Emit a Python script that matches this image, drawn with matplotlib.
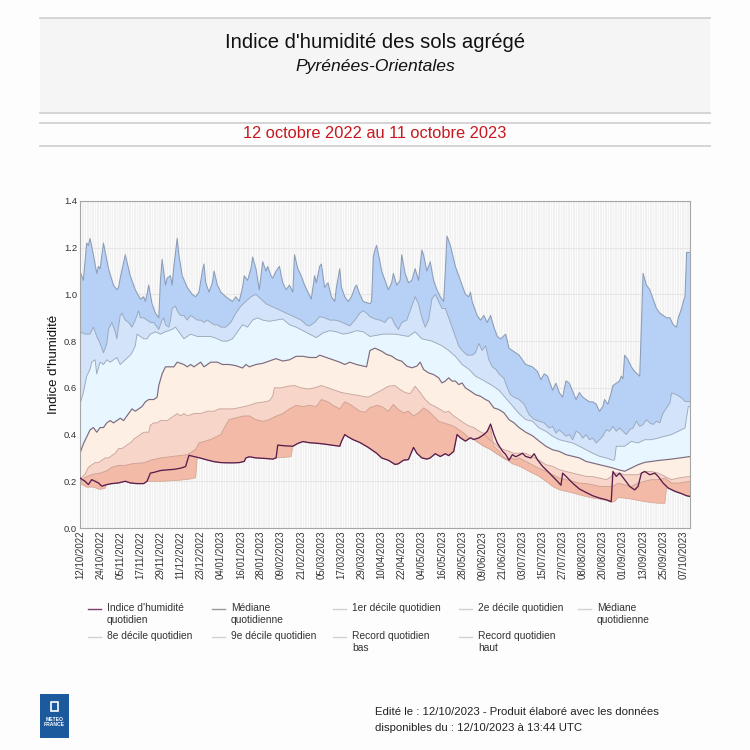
import numpy as np
import matplotlib
matplotlib.use("Agg")
import matplotlib.pyplot as plt
from matplotlib.patches import Rectangle
from matplotlib.lines import Line2D

plt.rcParams['font.family'] = ['Liberation Sans', 'DejaVu Sans']

# day offsets from 12/10/2022, soil wetness index values
rec_hi = [(0, 1.10), (2, 1.06), (4, 1.22), (5, 1.21), (6, 1.24), (8, 1.17), (10, 1.09), (11, 1.12),
          (12, 1.11), (14, 1.22), (17, 1.11), (20, 1.04), (22, 1.02), (23, 1.03), (24, 1.07), (27, 1.17),
          (30, 1.08), (33, 1.02), (36, 0.98), (38, 0.99), (39, 0.97), (40, 1.00), (41, 1.04), (43, 0.96),
          (45, 0.92), (47, 0.90), (48, 1.06), (49, 1.15), (51, 1.04), (52, 1.07), (54, 1.08), (55, 1.04),
          (56, 1.12), (58, 1.24), (59, 1.17), (61, 1.08), (64, 1.03), (67, 1.00), (69, 0.99), (71, 1.01),
          (73, 1.10), (74, 1.13), (75, 1.05), (77, 1.01), (79, 1.05), (80, 1.10), (82, 1.04), (84, 1.01),
          (87, 0.99), (91, 0.97), (93, 0.99), (95, 0.97), (97, 1.03), (98, 1.08), (100, 1.06), (102, 1.11),
          (103, 1.16), (105, 1.11), (107, 1.02), (109, 1.14), (111, 1.10), (112, 1.12), (114, 1.08),
          (115, 1.07), (117, 1.10), (119, 1.12), (121, 1.05), (123, 1.02), (125, 1.04), (127, 1.01),
          (128, 1.17), (130, 1.11), (132, 1.08), (134, 1.04), (136, 1.01), (138, 0.98), (140, 1.08),
          (141, 1.05), (143, 1.12), (144, 1.13), (146, 1.03), (148, 1.05), (150, 0.99), (152, 0.97),
          (153, 1.03), (155, 1.11), (156, 1.03), (158, 0.99), (160, 0.97), (162, 0.99), (164, 1.03),
          (165, 1.04), (167, 1.00), (169, 0.97), (173, 0.96), (174, 0.97), (175, 1.16), (176, 1.19),
          (177, 1.21), (179, 1.14), (180, 1.10), (182, 1.06), (184, 1.02), (186, 1.05), (187, 1.09),
          (189, 1.04), (191, 1.06), (192, 1.17), (194, 1.09), (196, 1.05), (198, 1.06), (200, 1.11),
          (202, 1.06), (204, 1.19), (205, 1.17), (207, 1.10), (209, 1.14), (211, 1.06), (213, 1.02),
          (215, 0.99), (217, 0.97), (218, 1.10), (219, 1.25), (221, 1.21), (224, 1.12), (227, 1.06),
          (230, 1.00), (232, 0.99), (233, 1.01), (234, 0.97), (237, 0.91), (239, 0.89), (241, 0.91),
          (243, 0.88), (245, 0.91), (247, 0.86), (249, 0.82), (251, 0.81), (254, 0.83), (256, 0.77),
          (258, 0.76), (262, 0.74), (266, 0.70), (270, 0.69), (273, 0.67), (275, 0.635), (277, 0.66),
          (279, 0.65), (282, 0.59), (284, 0.62), (286, 0.58), (288, 0.56), (290, 0.63), (292, 0.62),
          (294, 0.585), (296, 0.55), (298, 0.58), (300, 0.56), (302, 0.55), (304, 0.54), (306, 0.54),
          (308, 0.53), (310, 0.50), (312, 0.52), (313, 0.55), (315, 0.53), (317, 0.58), (318, 0.61),
          (320, 0.62), (322, 0.63), (323, 0.65), (324, 0.64), (325, 0.74), (327, 0.72), (329, 0.69),
          (331, 0.67), (334, 0.65), (336, 1.09), (338, 1.04), (340, 1.02), (342, 0.98), (344, 0.94),
          (346, 0.92), (348, 0.91), (350, 0.90), (352, 0.90), (354, 0.87), (356, 0.86), (357, 0.90),
          (359, 0.94), (360, 0.97), (361, 0.99), (362, 1.18), (364, 1.18)]

d9 = [(0, 0.84), (3, 0.83), (6, 0.83), (8, 0.86), (10, 0.82), (12, 0.79), (14, 0.75), (16, 0.79),
      (17, 0.85), (19, 0.88), (21, 0.84), (22, 0.81), (24, 0.91), (25, 0.92), (27, 0.89), (29, 0.88),
      (31, 0.86), (33, 0.89), (35, 0.93), (36, 0.90), (38, 0.90), (40, 0.89), (42, 0.88), (44, 0.88),
      (46, 0.86), (47, 0.85), (49, 0.89), (50, 0.90), (51, 0.87), (53, 0.86), (54, 0.89), (55, 0.94),
      (57, 0.95), (58, 0.93), (60, 0.91), (62, 0.91), (64, 0.89), (66, 0.91), (68, 0.90), (70, 0.89),
      (72, 0.89), (74, 0.88), (76, 0.89), (78, 0.88), (80, 0.87), (82, 0.87), (84, 0.86), (87, 0.86),
      (90, 0.88), (93, 0.92), (96, 0.95), (99, 0.97), (102, 0.99), (105, 1.00), (108, 0.98), (111, 0.96),
      (114, 0.95), (117, 0.94), (120, 0.93), (123, 0.92), (126, 0.91), (129, 0.90), (132, 0.89),
      (135, 0.87), (137, 0.865), (140, 0.88), (143, 0.905), (146, 0.90), (149, 0.89), (152, 0.89),
      (155, 0.885), (158, 0.875), (161, 0.865), (164, 0.89), (167, 0.92), (169, 0.93), (171, 0.92),
      (173, 0.905), (176, 0.895), (179, 0.89), (182, 0.88), (184, 0.90), (186, 0.90), (188, 0.87),
      (190, 0.85), (192, 0.88), (195, 0.89), (198, 0.95), (200, 0.99), (202, 0.96), (204, 0.90),
      (206, 0.86), (208, 0.89), (210, 0.98), (212, 1.00), (214, 0.97), (216, 0.94), (218, 0.94),
      (220, 0.90), (222, 0.86), (224, 0.82), (226, 0.78), (228, 0.76), (231, 0.74), (234, 0.74),
      (236, 0.75), (238, 0.79), (240, 0.76), (242, 0.78), (244, 0.72), (246, 0.69), (248, 0.68),
      (250, 0.66), (253, 0.64), (255, 0.60), (257, 0.57), (259, 0.56), (262, 0.55), (265, 0.53),
      (268, 0.485), (271, 0.465), (274, 0.457), (277, 0.45), (280, 0.428), (282, 0.435), (284, 0.407),
      (286, 0.42), (288, 0.407), (290, 0.393), (292, 0.40), (294, 0.378), (296, 0.414), (298, 0.407),
      (300, 0.385), (302, 0.40), (304, 0.378), (306, 0.385), (308, 0.364), (310, 0.378), (312, 0.393),
      (314, 0.421), (316, 0.414), (318, 0.435), (320, 0.414), (322, 0.428), (324, 0.414), (326, 0.40),
      (328, 0.421), (330, 0.428), (332, 0.457), (334, 0.435), (336, 0.443), (338, 0.464), (340, 0.45),
      (342, 0.443), (344, 0.457), (346, 0.45), (348, 0.493), (350, 0.514), (352, 0.535), (353, 0.578),
      (356, 0.571), (359, 0.557), (361, 0.542), (364, 0.54)]

d8 = [(0, 0.53), (2, 0.58), (4, 0.65), (6, 0.68), (7, 0.71), (9, 0.72), (10, 0.66), (12, 0.71),
      (14, 0.70), (16, 0.72), (18, 0.71), (20, 0.72), (22, 0.73), (24, 0.70), (27, 0.72), (30, 0.74),
      (31, 0.75), (33, 0.78), (34, 0.83), (36, 0.82), (38, 0.81), (40, 0.81), (42, 0.83), (45, 0.84),
      (48, 0.83), (51, 0.84), (55, 0.85), (57, 0.86), (60, 0.83), (62, 0.81), (66, 0.83), (70, 0.82),
      (74, 0.82), (78, 0.82), (82, 0.81), (85, 0.80), (88, 0.80), (91, 0.81), (94, 0.84), (97, 0.87),
      (100, 0.86), (103, 0.89), (106, 0.90), (109, 0.89), (113, 0.885), (117, 0.89), (121, 0.895),
      (125, 0.87), (129, 0.86), (133, 0.845), (137, 0.83), (141, 0.815), (145, 0.835), (149, 0.845),
      (153, 0.84), (157, 0.83), (161, 0.835), (165, 0.845), (169, 0.84), (173, 0.82), (177, 0.825),
      (181, 0.83), (184, 0.83), (188, 0.83), (192, 0.825), (196, 0.82), (200, 0.84), (204, 0.81),
      (210, 0.80), (216, 0.78), (220, 0.76), (224, 0.735), (228, 0.70), (232, 0.68), (236, 0.65),
      (240, 0.635), (246, 0.61), (250, 0.59), (256, 0.54), (262, 0.49), (266, 0.464), (270, 0.457),
      (274, 0.428), (278, 0.414), (282, 0.393), (286, 0.378), (290, 0.371), (294, 0.364), (298, 0.35),
      (302, 0.335), (306, 0.32), (310, 0.307), (314, 0.30), (318, 0.29), (319, 0.292), (320, 0.35),
      (325, 0.35), (329, 0.371), (333, 0.364), (337, 0.378), (341, 0.378), (345, 0.385), (349, 0.393),
      (353, 0.40), (357, 0.414), (361, 0.428), (363, 0.52), (364, 0.52)]

med = [(0, 0.32), (2, 0.36), (4, 0.39), (6, 0.42), (8, 0.43), (10, 0.41), (12, 0.43), (14, 0.43),
       (16, 0.45), (18, 0.46), (20, 0.45), (22, 0.46), (24, 0.47), (26, 0.46), (28, 0.48), (30, 0.50),
       (31, 0.51), (33, 0.50), (35, 0.51), (37, 0.52), (39, 0.54), (41, 0.55), (44, 0.55), (46, 0.56),
       (47, 0.61), (49, 0.66), (51, 0.69), (54, 0.69), (56, 0.69), (58, 0.71), (62, 0.70), (64, 0.69),
       (66, 0.70), (68, 0.69), (70, 0.70), (72, 0.71), (74, 0.69), (78, 0.71), (82, 0.71), (85, 0.70),
       (89, 0.70), (93, 0.695), (97, 0.685), (99, 0.70), (101, 0.69), (105, 0.70), (109, 0.705),
       (113, 0.715), (117, 0.725), (121, 0.715), (125, 0.72), (129, 0.735), (133, 0.735), (137, 0.73),
       (141, 0.73), (143, 0.74), (147, 0.73), (151, 0.72), (155, 0.71), (158, 0.70), (161, 0.71),
       (165, 0.70), (168, 0.695), (171, 0.69), (173, 0.76), (176, 0.77), (180, 0.757), (183, 0.743),
       (186, 0.736), (189, 0.721), (192, 0.714), (195, 0.693), (198, 0.686), (201, 0.693), (203, 0.71),
       (205, 0.679), (208, 0.664), (211, 0.657), (214, 0.643), (216, 0.621), (218, 0.629), (220, 0.643),
       (222, 0.629), (224, 0.629), (226, 0.614), (228, 0.621), (230, 0.60), (233, 0.586), (236, 0.571),
       (239, 0.564), (242, 0.55), (244, 0.543), (247, 0.514), (250, 0.507), (253, 0.493), (256, 0.464),
       (259, 0.45), (262, 0.43), (266, 0.41), (270, 0.395), (274, 0.372), (278, 0.35), (282, 0.335),
       (286, 0.328), (290, 0.314), (294, 0.307), (298, 0.30), (302, 0.285), (306, 0.278), (310, 0.271),
       (314, 0.264), (318, 0.257), (321, 0.25), (325, 0.243), (329, 0.257), (333, 0.271), (337, 0.281),
       (341, 0.285), (345, 0.289), (349, 0.292), (353, 0.295), (357, 0.299), (361, 0.303), (364, 0.306)]

d2 = [(0, 0.21), (3, 0.23), (5, 0.26), (7, 0.27), (9, 0.28), (11, 0.28), (13, 0.29), (15, 0.30),
      (17, 0.30), (19, 0.31), (21, 0.32), (23, 0.34), (25, 0.34), (27, 0.35), (29, 0.36), (31, 0.37),
      (32, 0.38), (34, 0.39), (36, 0.40), (38, 0.41), (41, 0.41), (42, 0.44), (44, 0.45), (46, 0.45),
      (48, 0.46), (52, 0.46), (54, 0.47), (56, 0.48), (58, 0.49), (60, 0.48), (62, 0.49), (64, 0.48),
      (68, 0.49), (72, 0.49), (76, 0.50), (80, 0.50), (83, 0.51), (88, 0.51), (91, 0.51), (95, 0.515),
      (101, 0.525), (105, 0.535), (110, 0.54), (113, 0.545), (115, 0.565), (116, 0.60), (120, 0.60),
      (124, 0.607), (128, 0.61), (132, 0.60), (136, 0.595), (140, 0.60), (144, 0.61), (148, 0.60),
      (152, 0.59), (156, 0.58), (160, 0.575), (164, 0.57), (168, 0.565), (172, 0.56), (176, 0.575),
      (180, 0.59), (184, 0.607), (188, 0.61), (191, 0.593), (194, 0.58), (197, 0.575), (200, 0.607),
      (203, 0.58), (206, 0.55), (209, 0.53), (212, 0.52), (215, 0.507), (218, 0.495), (220, 0.50),
      (223, 0.48), (226, 0.465), (229, 0.45), (232, 0.437), (235, 0.43), (238, 0.415), (241, 0.405),
      (244, 0.38), (247, 0.365), (250, 0.345), (253, 0.335), (256, 0.328), (259, 0.32), (262, 0.32),
      (266, 0.32), (270, 0.305), (274, 0.29), (278, 0.271), (282, 0.264), (286, 0.25), (290, 0.242),
      (294, 0.235), (298, 0.228), (302, 0.221), (306, 0.22), (310, 0.214), (314, 0.207), (317, 0.22),
      (318, 0.235), (321, 0.235), (325, 0.228), (329, 0.228), (333, 0.228), (337, 0.242), (341, 0.242),
      (345, 0.235), (349, 0.221), (353, 0.207), (357, 0.214), (364, 0.221)]

d1 = [(0, 0.20), (4, 0.22), (8, 0.23), (12, 0.235), (16, 0.245), (19, 0.26), (23, 0.268), (27, 0.268),
      (31, 0.275), (38, 0.279), (42, 0.29), (48, 0.30), (56, 0.307), (64, 0.314), (69, 0.336),
      (71, 0.364), (78, 0.379), (84, 0.40), (87, 0.44), (89, 0.464), (93, 0.471), (97, 0.479),
      (101, 0.48), (105, 0.464), (109, 0.457), (113, 0.464), (117, 0.479), (121, 0.49), (125, 0.51),
      (129, 0.525), (133, 0.52), (137, 0.525), (141, 0.52), (144, 0.55), (148, 0.54), (151, 0.525),
      (155, 0.51), (158, 0.54), (161, 0.53), (164, 0.515), (167, 0.50), (170, 0.495), (173, 0.515),
      (177, 0.525), (180, 0.52), (184, 0.50), (187, 0.529), (190, 0.507), (193, 0.493), (196, 0.50),
      (199, 0.479), (202, 0.493), (205, 0.514), (208, 0.50), (211, 0.479), (214, 0.457), (217, 0.45),
      (220, 0.443), (223, 0.436), (226, 0.421), (229, 0.407), (232, 0.386), (235, 0.379), (238, 0.364),
      (241, 0.35), (245, 0.336), (248, 0.321), (251, 0.307), (254, 0.293), (257, 0.30), (260, 0.293),
      (262, 0.30), (266, 0.285), (270, 0.27), (274, 0.255), (278, 0.243), (282, 0.228), (286, 0.214),
      (290, 0.207), (294, 0.20), (298, 0.192), (302, 0.19), (306, 0.185), (310, 0.178), (314, 0.178),
      (318, 0.178), (321, 0.192), (325, 0.185), (329, 0.178), (333, 0.192), (337, 0.20), (341, 0.207),
      (345, 0.207), (349, 0.214), (353, 0.192), (357, 0.192), (364, 0.20)]

rec_lo = [(0, 0.19), (4, 0.175), (8, 0.175), (12, 0.165), (15, 0.17), (16, 0.186), (19, 0.19),
          (23, 0.193), (27, 0.20), (30, 0.193), (34, 0.19), (38, 0.19), (40, 0.20), (42, 0.20), (50, 0.20),
          (60, 0.205), (66, 0.21), (69, 0.215), (70, 0.303), (72, 0.299), (76, 0.291), (80, 0.284),
          (84, 0.28), (88, 0.279), (92, 0.279), (95, 0.28), (98, 0.285), (99, 0.30), (101, 0.305),
          (105, 0.30), (110, 0.298), (115, 0.295), (117, 0.30), (126, 0.305), (127, 0.35), (130, 0.362),
          (133, 0.37), (137, 0.365), (141, 0.363), (145, 0.36), (150, 0.355), (155, 0.35), (156, 0.37),
          (158, 0.40), (160, 0.39), (163, 0.378), (167, 0.366), (172, 0.345), (177, 0.32), (180, 0.30),
          (184, 0.29), (188, 0.272), (190, 0.275), (193, 0.29), (196, 0.293), (199, 0.345), (201, 0.32),
          (204, 0.30), (207, 0.295), (209, 0.30), (212, 0.318), (215, 0.306), (218, 0.318), (220, 0.31),
          (223, 0.328), (225, 0.40), (227, 0.386), (230, 0.372), (233, 0.386), (235, 0.379), (238, 0.386),
          (241, 0.40), (243, 0.414), (245, 0.43), (247, 0.35), (250, 0.33), (252, 0.31), (255, 0.29),
          (258, 0.275), (262, 0.265), (266, 0.25), (270, 0.235), (274, 0.221), (278, 0.20), (282, 0.178),
          (286, 0.164), (288, 0.16), (290, 0.157), (294, 0.15), (298, 0.142), (302, 0.135), (306, 0.128),
          (310, 0.124), (314, 0.118), (317, 0.11), (319, 0.113), (321, 0.13), (325, 0.128), (329, 0.124),
          (333, 0.118), (337, 0.113), (341, 0.109), (345, 0.106), (349, 0.106), (350, 0.172),
          (351, 0.171), (355, 0.157), (359, 0.147), (362, 0.138), (364, 0.135)]

index_2023 = [(0, 0.214), (3, 0.20), (5, 0.186), (7, 0.207), (9, 0.20), (11, 0.193), (13, 0.179),
              (16, 0.186), (19, 0.19), (23, 0.193), (27, 0.20), (30, 0.193), (34, 0.19), (38, 0.19),
              (40, 0.20), (42, 0.235), (44, 0.238), (48, 0.246), (52, 0.249), (56, 0.251), (60, 0.256),
              (63, 0.263), (65, 0.311), (68, 0.306), (72, 0.299), (76, 0.291), (80, 0.284), (84, 0.28),
              (88, 0.279), (92, 0.279), (95, 0.28), (98, 0.285), (99, 0.30), (101, 0.305), (105, 0.30),
              (110, 0.298), (115, 0.295), (117, 0.30), (118, 0.355), (122, 0.352), (127, 0.35),
              (130, 0.362), (133, 0.37), (137, 0.365), (141, 0.363), (145, 0.36), (150, 0.355),
              (155, 0.35), (156, 0.37), (158, 0.40), (160, 0.39), (163, 0.378), (167, 0.366),
              (172, 0.345), (177, 0.32), (180, 0.30), (184, 0.29), (188, 0.272), (190, 0.275),
              (193, 0.29), (196, 0.293), (199, 0.345), (201, 0.32), (204, 0.30), (207, 0.295),
              (209, 0.30), (212, 0.318), (215, 0.306), (218, 0.318), (220, 0.31), (223, 0.328),
              (225, 0.40), (227, 0.386), (230, 0.372), (233, 0.386), (235, 0.379), (238, 0.386),
              (241, 0.40), (243, 0.414), (245, 0.445), (247, 0.40), (249, 0.364), (252, 0.33),
              (254, 0.315), (256, 0.29), (258, 0.314), (260, 0.305), (262, 0.312), (264, 0.32),
              (266, 0.306), (269, 0.30), (271, 0.318), (273, 0.292), (276, 0.264), (279, 0.243),
              (282, 0.221), (285, 0.199), (287, 0.183), (288, 0.235), (291, 0.214), (294, 0.192),
              (298, 0.167), (302, 0.152), (306, 0.138), (310, 0.128), (314, 0.121), (317, 0.113),
              (318, 0.242), (320, 0.221), (322, 0.235), (325, 0.207), (328, 0.178), (331, 0.163),
              (333, 0.178), (335, 0.235), (337, 0.242), (340, 0.228), (343, 0.235), (345, 0.221),
              (348, 0.192), (351, 0.171), (355, 0.157), (359, 0.147), (362, 0.138), (364, 0.135)]

tick_labels = ['12/10/2022', '24/10/2022', '05/11/2022', '17/11/2022', '29/11/2022', '11/12/2022',
               '23/12/2022', '04/01/2023', '16/01/2023', '28/01/2023', '09/02/2023', '21/02/2023',
               '05/03/2023', '17/03/2023', '29/03/2023', '10/04/2023', '22/04/2023', '04/05/2023',
               '16/05/2023', '28/05/2023', '09/06/2023', '21/06/2023', '03/07/2023', '15/07/2023',
               '27/07/2023', '08/08/2023', '20/08/2023', '01/09/2023', '13/09/2023', '25/09/2023',
               '07/10/2023']
tick_step = 12
n_days = 365

legend_items = [("Indice d'humidité\nquotidien", '#7b3c6e'), ("Médiane\nquotidienne", '#9a9a9a'),
                ("1er décile quotidien", '#d2d2d2'), ("2e décile quotidien", '#d2d2d2'),
                ("Médiane\nquotidienne", '#d2d2d2'), ("8e décile quotidien", '#d2d2d2'),
                ("9e décile quotidien", '#d2d2d2'), ("Record quotidien\nbas", '#d2d2d2'),
                ("Record quotidien\nhaut", '#d2d2d2')]

W = H = 750.0


def fx(px):
    return px / W


def fy(py):
    return 1 - py / H


def arr(series):
    a = np.array(series, dtype=float)
    return a[:, 0], a[:, 1]


fig = plt.figure(figsize=(7.5, 7.5), dpi=100, facecolor='#fdfdfd')

# header boxes
fig.patches.append(Rectangle((fx(40), fy(113)), fx(670), 95 / H, transform=fig.transFigure,
                             facecolor='#f5f5f5', edgecolor='none', zorder=0))
for py in [18, 113, 123, 146]:
    fig.add_artist(Line2D([fx(40), fx(710)], [fy(py), fy(py)], transform=fig.transFigure,
                          color='#d2d2d2', lw=1.3))
fig.text(0.5, fy(43), "Indice d'humidité des sols agrégé", ha='center', va='center', fontsize=14.6,
         color='#111111')
fig.text(0.5, fy(66), "Pyrénées-Orientales", ha='center', va='center', fontsize=12.6, style='italic',
         color='#111111')
fig.text(0.5, fy(134), "12 octobre 2022 au 11 octobre 2023", ha='center', va='center', fontsize=11.8,
         color='#c8171e')

ax = fig.add_axes([fx(80), fy(528), fx(610), 327 / H])
ax.set_facecolor('#fbfbfb')
ax.vlines(np.arange(n_days), 0, 1.4, color='#efefef', lw=0.55, zorder=0)
for yv in np.arange(0.2, 1.4, 0.2):
    ax.axhline(yv, color='#e6e6e6', lw=0.8, zorder=0.5)

bounds = [rec_hi, d9, d8, med, d2, d1, rec_lo]
band_colors = ['#b6d0f6', '#d3e3fa', '#e8f6ff', '#fdefe4', '#f8d5c9', '#f2baa7']
for (top, bot, col) in zip(bounds[:-1], bounds[1:], band_colors):
    tx, ty = arr(top)
    bx, by = arr(bot)
    ax.fill(np.concatenate([tx, bx[::-1]]), np.concatenate([ty, by[::-1]]), color=col, lw=0, zorder=1)

line_styles = [('#8c9cb6', 0.75), ('#97a6bd', 0.65), ('#9aa8bc', 0.65), ('#7c6c80', 0.85),
               ('#c9a79e', 0.65), ('#cfa193', 0.65), ('#d4a595', 0.55)]
for s, (c, w) in zip(bounds, line_styles):
    x, y = arr(s)
    ax.plot(x, y, color=c, lw=w, zorder=2)

ix, iy = arr(index_2023)
ax.plot(ix, iy, color='#5a1d4d', lw=0.95, zorder=3)

ax.set_xlim(0, n_days - 1)
ax.set_ylim(0, 1.4)
ax.set_xticks(np.arange(len(tick_labels)) * tick_step)
ax.set_xticklabels(tick_labels, rotation=90, fontsize=7, color='#333333')
ax.set_yticks(np.arange(0, 1.41, 0.2))
ax.set_yticklabels(['%.1f' % v for v in np.arange(0, 1.41, 0.2)], fontsize=6.8, color='#333333')
ax.tick_params(length=0, pad=2)
for sp in ax.spines.values():
    sp.set_color('#a5a5a5')
    sp.set_linewidth(0.8)
ax.set_ylabel("Indice d'humidité", fontsize=9.5, color='#111111', labelpad=3)

# legend
text_x = [107, 231, 352, 478, 597]
row_y = [609, 637]
for i, (label, col) in enumerate(legend_items):
    tx = text_x[i % 5]
    ty = row_y[i // 5]
    fig.add_artist(Line2D([fx(tx - 19), fx(tx - 6)], [fy(ty), fy(ty)], transform=fig.transFigure,
                          color=col, lw=1.0))
    fig.text(fx(tx), fy(ty - 6), label, ha='left', va='top', fontsize=7.4, color='#333333',
             linespacing=1.25)

# footer
fig.text(fx(375), fy(712), "Edité le : 12/10/2023 - Produit élaboré avec les données", ha='left',
         va='center', fontsize=8.2, color='#222222')
fig.text(fx(375), fy(728), "disponibles du : 12/10/2023 à 13:44 UTC", ha='left', va='center',
         fontsize=8.2, color='#222222')

# logo
fig.patches.append(Rectangle((fx(40), fy(738)), fx(29), 44 / H, transform=fig.transFigure,
                             facecolor='#1c5a9e', edgecolor='none'))
fig.patches.append(Rectangle((fx(51), fy(711)), fx(7), 9 / H, transform=fig.transFigure,
                             facecolor='none', edgecolor='white', lw=1.2))
fig.text(fx(54.5), fy(722), "METEO\nFRANCE", ha='center', va='center', fontsize=3.6, color='white',
         weight='bold', linespacing=1.1)

fig.savefig('out.png', dpi=100, facecolor=fig.get_facecolor())
